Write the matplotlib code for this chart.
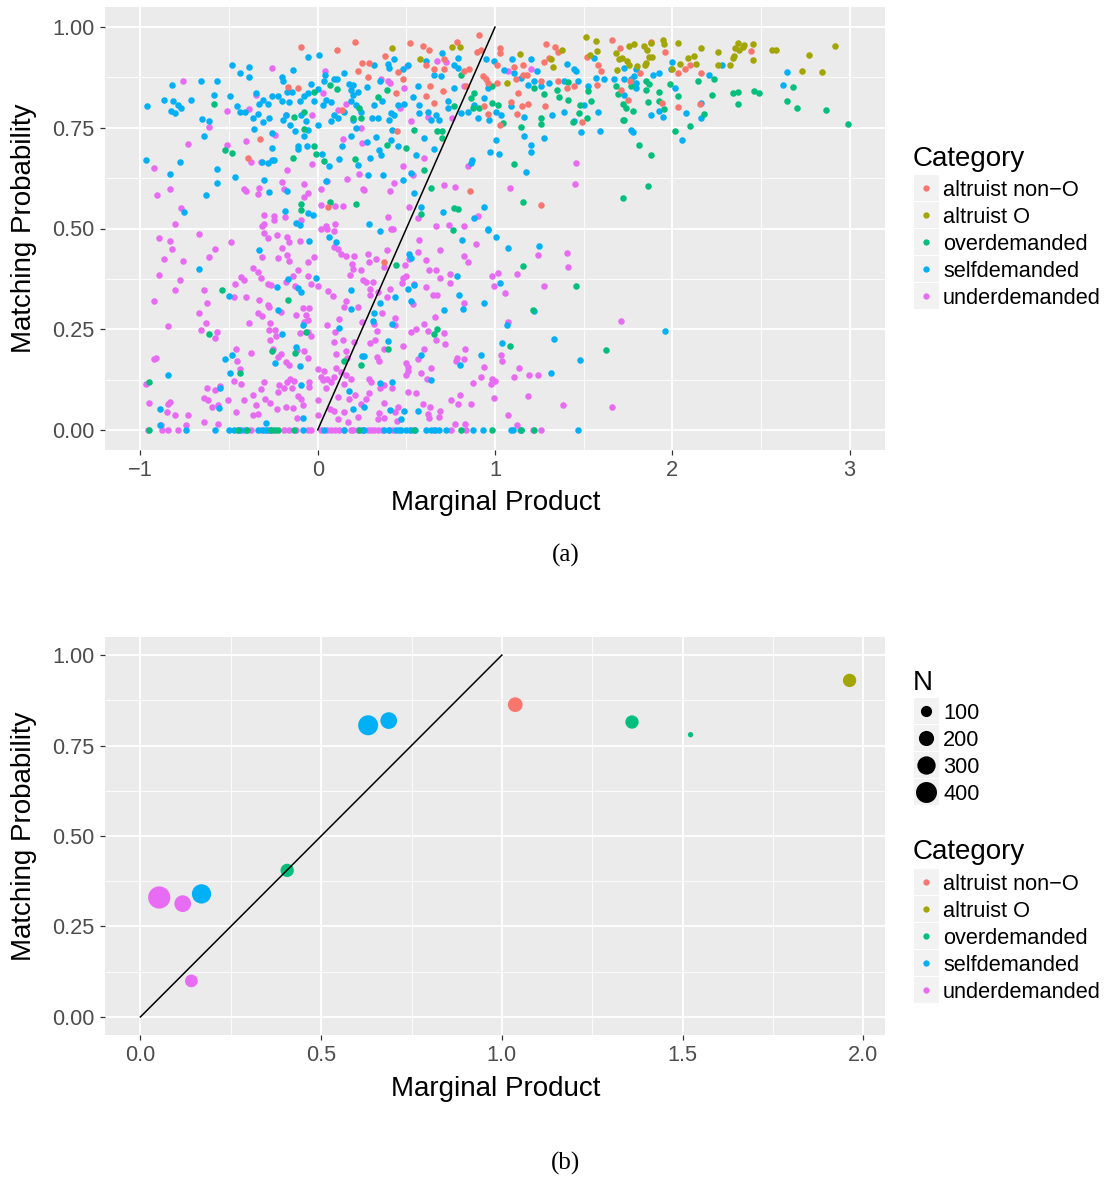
import numpy as np
import matplotlib
matplotlib.use("Agg")
import matplotlib.pyplot as plt
from matplotlib.patches import Rectangle
from matplotlib.lines import Line2D

# ---------------- data ----------------
categories = ["altruist non\u2212O", "altruist O", "overdemanded", "selfdemanded", "underdemanded"]
colors = ["#F8766D", "#A3A500", "#00BF7D", "#00B0F6", "#E76BF3"]

# panel (a): individual (marginal product, matching probability) points
underdemanded_pts = [
    (-0.76,0.866),(-0.258,0.898),(-0.348,0.832),(-0.385,0.797),(-0.513,0.793),(-0.615,0.751),(-0.733,0.709),
    (-0.511,0.708),(-0.404,0.717),(-0.239,0.733),(-0.178,0.783),(-0.032,0.783),(0.043,0.892),(0.028,0.836),
    (0.162,0.808),(0.113,0.795),(0.244,0.75),(0.25,0.712),(0.143,0.723),(-0.925,0.651),(-0.831,0.597),
    (-0.908,0.583),(-0.771,0.552),(-0.806,0.511),(-0.414,0.597),(-0.404,0.592),(-0.338,0.586),(-0.333,0.60),
    (-0.376,0.664),(-0.32,0.666),(-0.175,0.645),(-0.203,0.615),(-0.192,0.598),(-0.075,0.611),(-0.03,0.659),
    (0.019,0.597),(0.05,0.618),(0.164,0.622),(0.256,0.597),(0.235,0.636),(-0.075,0.579),(-0.056,0.588),
    (-0.305,0.534),(-0.248,0.531),(-0.248,0.52),(-0.184,0.529),(-0.305,0.51),(-0.094,0.521),(0.019,0.558),
    (0.098,0.556),(0.143,0.555),(0.049,0.505),(0.098,0.512),
    (0.398,0.866),(0.41,0.861),(0.485,0.849),(0.466,0.80),(0.526,0.766),(0.624,0.778),(0.673,0.915),
    (0.724,0.914),(0.756,0.774),(0.827,0.853),(1.075,0.89),(1.203,0.896),(0.602,0.675),(0.479,0.656),
    (0.535,0.633),(0.846,0.656),(0.429,0.614),(0.41,0.593),(0.71,0.607),(0.774,0.602),(0.517,0.553),
    (0.564,0.527),(0.398,0.529),(0.667,0.505),(0.739,0.509),(0.827,0.506),(0.902,0.532),(1.083,0.60),
    (1.451,0.611),(1.457,0.662),(0.504,0.903),(0.357,0.872),(0.263,0.596),(0.414,0.50),
    (-0.897,0.476),(-0.833,0.469),(-0.821,0.448),(-0.868,0.424),(-0.759,0.419),(-0.897,0.385),(-0.778,0.372),
    (-0.806,0.348),(-0.925,0.319),(-0.842,0.259),(-0.667,0.486),(-0.615,0.429),(-0.577,0.449),(-0.487,0.466),
    (-0.643,0.348),(-0.624,0.316),(-0.669,0.289),(-0.633,0.266),(-0.658,0.248),(-0.568,0.243),(-0.579,0.228),
    (-0.468,0.362),(-0.432,0.38),(-0.414,0.372),(-0.474,0.329),(-0.404,0.329),(-0.367,0.403),(-0.335,0.392),
    (-0.32,0.378),(-0.329,0.322),(-0.282,0.309),(-0.273,0.304),(-0.335,0.289),(-0.316,0.283),(-0.267,0.266),
    (-0.385,0.265),(-0.276,0.248),(-0.233,0.234),(-0.316,0.505),(-0.305,0.489),(-0.282,0.476),(-0.229,0.484),
    (-0.173,0.48),(-0.164,0.467),(-0.203,0.452),(-0.173,0.434),(-0.226,0.426),(-0.16,0.419),(-0.312,0.428),
    (-0.102,0.47),(-0.056,0.416),(-0.023,0.428),(-0.113,0.397),(-0.141,0.383),(-0.179,0.368),(-0.056,0.382),
    (-0.038,0.361),(0.0,0.357),(-0.128,0.357),(-0.282,0.363),(-0.263,0.359),(-0.207,0.293),(-0.122,0.284),
    (-0.085,0.303),(-0.047,0.303),(-0.066,0.284),(-0.056,0.272),(-0.079,0.268),(-0.1,0.241),(-0.056,0.243),
    (-0.038,0.233),(-0.239,0.247),(-0.267,0.224),(-0.254,0.201),(-0.207,0.188),(-0.226,0.181),(-0.179,0.168),
    (-0.16,0.16),(-0.117,0.198),(-0.075,0.195),(-0.053,0.178),(-0.459,0.2),(-0.457,0.172),(-0.44,0.151),
    (-0.474,0.122),(-0.432,0.114),(-0.376,0.19),(-0.921,0.175),(-0.915,0.179),(-0.97,0.113),(-0.949,0.066),
    (-0.846,0.063),(-0.835,0.068),(-0.85,0.045),(-0.805,0.037),(-0.733,0.037),(-0.742,0.013),(-0.883,0.013),
    (-0.639,0.079),(-0.62,0.075),(-0.598,0.056),(-0.624,0.104),(-0.579,0.1),(-0.549,0.11),(-0.564,0.061),
    (-0.564,0.015),(-0.643,0.019),(-0.508,0.075),(-0.461,0.044),(-0.414,0.073),(-0.367,0.087),(-0.348,0.061),
    (-0.367,0.036),(-0.335,0.04),(-0.32,0.102),(-0.305,0.119),(-0.297,0.077),(-0.271,0.066),(-0.229,0.052),
    (-0.226,0.095),(-0.216,0.112),(-0.188,0.104),(-0.171,0.119),(-0.154,0.127),(-0.132,0.121),(-0.145,0.104),
    (-0.179,0.056),(-0.137,0.054),(-0.113,0.085),(-0.094,0.077),(-0.083,0.061),(-0.117,0.029),(-0.051,0.119),
    (-0.047,0.106),(0.0,0.073),(0.0,0.036),(0.004,0.151),(0.038,0.147),(0.019,0.131),(0.028,0.123),
    (0.053,0.127),(0.047,0.105),(0.075,0.119),(0.094,0.131),(0.103,0.153),(0.132,0.144),(0.158,0.135),
    (0.188,0.127),(0.147,0.115),(0.21,0.087),(0.179,0.077),(0.113,0.081),(0.071,0.052),(0.094,0.048),
    (0.147,0.044),(0.113,0.027),(0.17,0.019),(0.226,0.032),(0.244,0.065),(0.16,0.195),(0.165,0.179),
    (0.203,0.218),(0.103,0.189),(0.094,0.218),(0.145,0.222),(0.16,0.321),(0.15,0.305),(0.226,0.304),
    (0.248,0.268),(0.053,0.261),(0.098,0.243),(0.122,0.275),(0.019,0.5),(0.05,0.5),(0.09,0.494),
    (0.094,0.455),(0.113,0.449),(0.132,0.437),(0.16,0.431),(0.207,0.431),(0.192,0.412),(0.197,0.4),
    (0.184,0.385),(0.244,0.398),(0.253,0.372),(0.056,0.346),(0.085,0.333),
    (0.427,0.499),(0.573,0.472),(0.564,0.441),(0.391,0.446),(0.282,0.436),(0.329,0.424),(0.289,0.418),
    (0.376,0.405),(0.492,0.409),(0.517,0.425),(0.611,0.422),(0.692,0.446),(0.827,0.432),(0.846,0.416),
    (0.893,0.462),(0.63,0.396),(0.667,0.397),(0.748,0.388),(0.692,0.377),(0.746,0.365),(0.498,0.382),
    (0.479,0.376),(0.474,0.364),(0.545,0.361),(0.611,0.355),(0.272,0.366),(0.31,0.366),(0.297,0.351),
    (0.297,0.336),(0.338,0.343),(0.41,0.351),(0.391,0.331),(0.535,0.313),(0.648,0.336),(0.673,0.336),
    (0.827,0.316),(0.363,0.29),(0.438,0.278),(0.436,0.26),(0.32,0.263),(0.335,0.246),(0.297,0.216),
    (0.325,0.222),(0.526,0.243),(0.556,0.25),(0.602,0.263),(0.62,0.246),(0.663,0.28),(0.71,0.24),
    (0.665,0.224),(0.72,0.212),(0.479,0.207),(0.376,0.201),(0.335,0.18),(0.344,0.17),(0.564,0.177),
    (0.602,0.2),(0.498,0.167),(0.508,0.156),(0.583,0.142),(0.639,0.153),(0.617,0.127),(0.498,0.135),
    (0.508,0.146),(0.417,0.105),(0.353,0.103),(0.376,0.111),(0.291,0.127),(0.301,0.119),(0.273,0.077),
    (0.291,0.092),(0.372,0.066),(0.348,0.042),(0.376,0.029),(0.338,0.027),(0.451,0.056),(0.438,0.044),
    (0.445,0.021),(0.508,0.094),(0.555,0.091),(0.592,0.065),(0.635,0.056),(0.62,0.04),(0.626,0.029),
    (0.692,0.046),(0.682,0.031),(0.752,0.075),(0.803,0.087),(0.79,0.063),(0.865,0.065),(0.874,0.116),
    (0.921,0.131),(0.977,0.115),(0.983,0.126),(1.002,0.121),(0.94,0.157),(0.992,0.078),(0.786,0.179),
    (0.827,0.175),(0.782,0.171),(0.833,0.2),(1.034,0.186),(1.038,0.172),(1.137,0.153),(1.109,0.131),
    (1.194,0.135),(1.244,0.135),(1.184,0.085),(1.075,0.038),(1.122,0.013),(1.385,0.061),(1.658,0.056),
    (0.983,0.383),(0.992,0.357),(1.019,0.389),(1.058,0.339),(1.122,0.387),(1.278,0.357),(1.241,0.434),
    (1.404,0.44),(1.414,0.405),(1.075,0.268),(1.711,0.27),(0.774,0.015),(0.831,0.015),
    (-0.959,0.0),(-0.88,0.0),(-0.846,0.0),(-0.786,0.0),(-0.45,0.0),(-0.42,0.0),(-0.376,0.0),(-0.32,0.0),
    (-0.28,0.0),(-0.25,0.0),(-0.188,0.0),(-0.16,0.0),(-0.12,0.0),(-0.056,0.0),(-0.038,0.0),(0.02,0.0),
    (0.05,0.0),(0.075,0.0),(0.1,0.0),(0.122,0.0),(0.15,0.0),(0.188,0.0),(0.2,0.0),(0.226,0.0),(0.25,0.0),
    (0.282,0.0),(0.30,0.0),(0.32,0.0),(0.338,0.0),(0.36,0.0),(0.40,0.0),(0.423,0.0),(0.526,0.0),(0.658,0.0),
    (0.752,0.0),(0.836,0.0),(1.143,0.0),(1.212,0.0),(1.259,0.0),
]

selfdemanded_pts = [
    (-0.962,0.803),(-0.868,0.818),(-0.823,0.857),(-0.814,0.816),(-0.827,0.793),(-0.805,0.786),(-0.786,0.807),
    (-0.771,0.80),(-0.714,0.819),(-0.66,0.867),(-0.568,0.866),(-0.586,0.832),(-0.652,0.772),(-0.615,0.768),
    (-0.643,0.73),(-0.485,0.906),(-0.44,0.885),(-0.385,0.90),(-0.385,0.876),(-0.494,0.83),(-0.457,0.805),
    (-0.44,0.79),(-0.41,0.79),(-0.35,0.837),(-0.33,0.81),(-0.31,0.82),(-0.28,0.81),(-0.26,0.83),(-0.226,0.83),
    (-0.2,0.816),(-0.16,0.814),(-0.338,0.784),(-0.366,0.775),(-0.31,0.764),(-0.275,0.775),(-0.36,0.746),
    (-0.257,0.737),(-0.257,0.70),(-0.2,0.876),(-0.195,0.867),(-0.139,0.894),(-0.056,0.925),(0.008,0.932),
    (-0.171,0.84),(-0.145,0.84),(-0.098,0.817),(-0.075,0.83),(-0.038,0.86),(-0.053,0.836),(-0.023,0.816),
    (0.0,0.847),(-0.197,0.77),(-0.178,0.783),(-0.156,0.758),(-0.13,0.743),(-0.094,0.783),(-0.066,0.766),
    (-0.056,0.745),(-0.075,0.729),(0.0,0.756),(-0.11,0.704),(-0.11,0.697),(-0.058,0.705),(0.026,0.686),
    (-0.312,0.666),(-0.282,0.662),(-0.26,0.67),(-0.248,0.67),(-0.97,0.669),(-0.778,0.666),(-0.835,0.635),
    (-0.568,0.647),(-0.568,0.614),(-0.468,0.628),(-0.305,0.62),(-0.276,0.59),(-0.173,0.594),(-0.63,0.583),
    (-0.752,0.542),(-0.184,0.544),(-0.122,0.513),(-0.1,0.509),(-0.028,0.533),(-0.056,0.538),(0.043,0.882),
    (0.038,0.866),(0.094,0.87),(0.109,0.872),(0.15,0.886),(0.175,0.86),(0.197,0.857),(0.188,0.845),
    (0.197,0.832),(0.226,0.84),(0.188,0.816),(0.216,0.807),(0.244,0.79),(0.075,0.814),(0.032,0.807),
    (0.047,0.82),(0.094,0.783),(0.075,0.766),(0.113,0.774),(0.15,0.79),(0.197,0.77),(0.216,0.75),
    (0.188,0.729),(0.135,0.704),(0.118,0.672),(0.229,0.658),(0.062,0.656),(0.047,0.619),
    (0.32,0.907),(0.353,0.867),(0.395,0.909),(0.404,0.899),(0.432,0.92),(0.479,0.895),(0.508,0.907),
    (0.278,0.851),(0.316,0.807),(0.361,0.816),(0.414,0.787),(0.451,0.807),(0.489,0.809),(0.305,0.774),
    (0.338,0.774),(0.404,0.77),(0.432,0.783),(0.535,0.826),(0.564,0.853),(0.573,0.807),(0.573,0.787),
    (0.62,0.79),(0.639,0.77),(0.667,0.783),(0.686,0.77),(0.695,0.878),(0.699,0.936),(0.771,0.905),
    (0.793,0.924),(0.793,0.899),(0.771,0.849),(0.733,0.816),(0.733,0.80),(0.808,0.787),(0.846,0.79),
    (0.883,0.807),(0.902,0.774),(0.94,0.824),(0.958,0.849),(0.968,0.77),(1.005,0.79),(0.949,0.92),
    (0.996,0.915),(1.094,0.921),(1.053,0.893),(1.109,0.886),(1.147,0.874),(1.203,0.92),(1.237,0.89),
    (1.222,0.866),(1.184,0.857),(1.259,0.853),(1.306,0.861),(1.391,0.866),(1.404,0.909),(1.447,0.895),
    (1.457,0.89),(1.466,0.866),(1.523,0.853),(1.56,0.924),(1.569,0.874),(1.617,0.87),(1.669,0.87),
    (1.504,0.807),(1.579,0.79),(1.32,0.783),(1.391,0.79),(1.447,0.766),(1.59,0.741),(1.485,0.739),
    (1.278,0.724),(1.165,0.73),(1.165,0.776),(1.09,0.803),(1.034,0.783),(1.203,0.708),(1.203,0.689),
    (1.175,0.64),(1.005,0.72),(0.974,0.691),(1.02,0.685),(0.868,0.671),(0.865,0.662),(0.602,0.724),
    (0.654,0.698),(0.555,0.683),(0.451,0.704),(0.417,0.745),(0.414,0.72),(0.329,0.726),(0.278,0.716),
    (0.348,0.695),(0.293,0.675),(0.282,0.632),(0.367,0.632),(0.483,0.62),(0.526,0.637),(0.545,0.588),
    (0.583,0.554),(0.708,0.542),(0.883,0.527),(0.936,0.554),(0.958,0.499),(0.291,0.51),(0.611,0.915),
    (0.658,0.88),(0.357,0.683),
    (1.73,0.899),(1.797,0.895),(1.782,0.878),(1.767,0.87),(1.797,0.861),(1.797,0.849),(1.73,0.87),
    (1.73,0.832),(1.889,0.88),(1.923,0.886),(1.998,0.914),(1.992,0.895),(2.015,0.849),(1.88,0.783),
    (1.923,0.791),(1.945,0.776),(2.079,0.787),(2.162,0.812),(2.162,0.774),(2.209,0.882),(2.282,0.907),
    (2.053,0.719),(1.767,0.745),(1.778,0.739),(2.645,0.889),(2.626,0.856),
    (-0.667,0.4),(-0.333,0.447),(-0.047,0.47),(-0.009,0.376),(-0.165,0.374),(-0.229,0.354),(-0.113,0.353),
    (-0.094,0.343),(-0.498,0.333),(-0.226,0.297),(-0.203,0.238),(-0.083,0.26),(-0.12,0.206),(-0.102,0.159),
    (-0.094,0.112),(-0.081,0.029),(0.188,0.348),(0.188,0.299),(0.118,0.254),(0.066,0.48),(0.103,0.467),
    (-0.523,0.177),(-0.485,0.186),(-0.496,0.142),(-0.549,0.103),(-0.558,0.054),(-0.842,0.136),(-0.887,0.052),
    (-0.891,0.013),(-0.241,0.166),(0.179,0.096),(0.197,0.052),(0.25,0.184),(-0.293,0.018),
    (0.353,0.494),(0.517,0.436),(0.526,0.426),(0.812,0.471),(0.959,0.496),(1.006,0.48),(1.075,0.451),
    (1.248,0.457),(0.786,0.383),(0.541,0.36),(0.508,0.349),(0.436,0.331),(0.353,0.316),(0.526,0.32),
    (0.795,0.336),(0.82,0.301),(0.71,0.297),(0.936,0.316),(1.03,0.364),(0.316,0.289),(0.31,0.271),
    (0.419,0.262),(1.222,0.294),(1.068,0.261),(0.398,0.22),(0.263,0.184),(0.583,0.186),(0.803,0.162),
    (0.921,0.185),(1.038,0.216),(1.331,0.226),(1.477,0.174),(1.316,0.141),(0.639,0.123),(0.353,0.116),
    (0.419,0.119),(0.41,0.049),(0.489,0.046),(0.564,0.046),(0.47,0.027),(0.263,0.056),(1.96,0.246),
    (-0.742,0.0),(-0.577,0.0),(-0.498,0.0),(-0.47,0.0),(-0.44,0.0),(-0.404,0.0),(-0.338,0.0),(-0.31,0.0),
    (-0.291,0.0),(-0.27,0.0),(-0.083,0.0),(0.038,0.0),(0.15,0.0),(0.254,0.0),(0.263,0.0),(0.376,0.0),
    (0.40,0.0),(0.442,0.0),(0.46,0.0),(0.47,0.0),(0.498,0.0),(0.52,0.0),(0.55,0.0),(0.611,0.0),(0.639,0.0),
    (0.66,0.0),(0.686,0.0),(0.724,0.0),(0.874,0.0),(0.93,0.0),(1.09,0.0),(1.1,0.0),(1.147,0.0),(1.466,0.0),
]

overdemanded_pts = [
    (-0.586,0.81),(-0.523,0.695),(-0.485,0.688),(-0.137,0.674),(-0.132,0.777),(-0.075,0.79),(-0.075,0.747),
    (-0.019,0.84),(-0.023,0.706),(-0.011,0.685),(0.034,0.667),(0.07,0.856),(0.107,0.846),(0.197,0.774),
    (0.244,0.774),(0.235,0.80),(0.21,0.672),(-0.094,0.561),(-0.094,0.547),(0.07,0.565),(0.216,0.56),
    (0.389,0.845),(0.338,0.826),(0.545,0.745),(0.5,0.70),(0.39,0.708),(0.673,0.741),(0.701,0.724),
    (0.701,0.743),(0.602,0.646),(0.638,0.60),(0.583,0.536),(0.771,0.55),(0.793,0.549),(0.808,0.882),
    (0.767,0.803),(0.865,0.824),(0.883,0.837),(0.874,0.80),(0.912,0.80),(0.981,0.812),(0.981,0.853),
    (1.015,0.807),(1.043,0.762),(1.147,0.751),(1.105,0.66),(1.158,0.565),(1.222,0.849),(1.259,0.774),
    (1.259,0.759),(1.278,0.834),(1.348,0.843),(1.363,0.826),(1.41,0.864),(1.413,0.82),(1.438,0.764),
    (1.479,0.807),(1.472,0.788),(1.519,0.774),(1.523,0.842),(1.541,0.816),(1.68,0.853),(1.692,0.834),
    (1.721,0.809),(1.721,0.77),(1.721,0.575),
    (1.739,0.80),(1.777,0.793),(1.73,0.77),(1.767,0.853),(1.852,0.866),(1.871,0.859),(1.852,0.845),
    (1.923,0.839),(1.865,0.813),(1.926,0.816),(1.951,0.797),(1.989,0.859),(2.034,0.828),(2.017,0.741),
    (2.098,0.755),(2.18,0.784),(2.143,0.866),(2.233,0.871),(2.226,0.831),(2.34,0.837),(2.372,0.838),
    (2.372,0.81),(2.462,0.842),(2.491,0.837),(2.647,0.817),(2.682,0.851),(2.701,0.798),(2.865,0.795),
    (2.994,0.759),(1.814,0.708),(1.88,0.683),(1.861,0.605),
    (-0.541,0.348),(-0.615,0.237),(-0.169,0.322),(-0.066,0.243),(-0.258,0.195),(-0.128,0.192),(-0.44,0.14),
    (-0.953,0.12),(0.15,0.171),(0.244,0.16),(0.765,0.497),(0.444,0.409),(1.158,0.406),(1.459,0.358),
    (1.212,0.297),(0.673,0.25),(0.654,0.237),(0.398,0.2),(1.083,0.208),(1.624,0.199),
    (-0.953,0.0),(-0.451,0.0),(-0.40,0.0),(-0.263,0.0),(-0.24,0.0),(-0.226,0.0),(-0.132,0.0),(0.235,0.0),
    (0.545,0.0),(0.808,0.0),(0.983,0.0),(1.147,0.0),(1.222,0.0),
]

altruist_nonO_pts = [
    (-0.094,0.95),(0.107,0.943),(0.209,0.963),(0.25,0.911),(0.226,0.89),(-0.167,0.851),(-0.113,0.849),
    (0.135,0.795),(-0.323,0.722),(-0.395,0.674),(0.06,0.554),
    (0.519,0.961),(0.592,0.953),(0.629,0.944),(0.785,0.963),(0.912,0.981),(0.897,0.938),(0.921,0.942),
    (1.03,0.949),(1.03,0.936),(1.286,0.957),(1.34,0.95),(1.353,0.938),(1.66,0.969),(1.703,0.949),
    (0.382,0.928),(0.289,0.911),(0.286,0.876),(0.455,0.889),(0.61,0.905),(0.654,0.895),(0.71,0.922),
    (0.71,0.896),(0.827,0.89),(0.855,0.895),(0.932,0.878),(0.949,0.87),(0.958,0.861),(1.011,0.905),
    (1.105,0.90),(1.16,0.905),(1.156,0.88),(1.118,0.87),(1.18,0.88),(1.274,0.914),(1.302,0.924),
    (1.353,0.866),(1.406,0.849),(1.447,0.853),(1.519,0.925),(1.579,0.905),(1.598,0.892),(1.575,0.857),
    (1.711,0.845),(0.483,0.87),(0.632,0.853),(0.611,0.828),(0.707,0.842),(0.658,0.812),(0.442,0.836),
    (0.445,0.743),(0.836,0.853),(1.011,0.861),(1.09,0.814),(1.15,0.805),(1.124,0.784),(1.184,0.809),
    (1.259,0.866),(1.284,0.803),(0.94,0.803),(0.958,0.784),(1.03,0.757),(1.128,0.837),(1.489,0.764),
    (0.857,0.594),(1.259,0.559),(0.372,0.418),
    (1.88,0.963),(1.961,0.939),(1.816,0.885),(1.763,0.867),(2.034,0.886),(2.071,0.897),(2.098,0.905),
    (2.162,0.887),(1.944,0.811),(2.034,0.802),(2.154,0.81),(2.444,0.94),(1.752,0.818),
]

altruist_O_pts = [
    (0.417,0.947),(0.575,0.922),(0.756,0.95),(0.803,0.95),(1.139,0.934),(1.378,0.944),(1.329,0.90),
    (1.316,0.92),(1.068,0.861),(1.513,0.975),(1.569,0.965),(1.575,0.94),(1.536,0.932),(1.682,0.936),
    (1.701,0.92),(1.714,0.924),(1.688,0.893),
    (1.757,0.953),(1.786,0.959),(1.842,0.954),(1.88,0.961),(1.945,0.969),(1.951,0.959),(2.034,0.96),
    (1.857,0.944),(1.868,0.925),(1.887,0.927),(1.85,0.911),(1.846,0.905),(1.803,0.903),(1.745,0.915),
    (1.758,0.907),(1.996,0.896),(2.045,0.909),(2.086,0.924),(2.124,0.929),(2.135,0.909),(2.162,0.947),
    (2.256,0.938),(2.256,0.905),(2.327,0.907),(2.34,0.924),(2.346,0.928),(2.353,0.949),(2.372,0.961),
    (2.397,0.95),(2.406,0.955),(2.455,0.958),(2.455,0.918),(2.56,0.944),(2.585,0.942),(2.729,0.89),
    (2.774,0.932),(2.847,0.888),(2.919,0.952),(2.378,0.942),
]

# panel (b): category means with counts
mean_cat = ["altruist O", "altruist non\u2212O", "selfdemanded", "selfdemanded", "overdemanded",
            "overdemanded", "overdemanded", "underdemanded", "underdemanded", "selfdemanded", "underdemanded"]
mean_x = [1.962, 1.037, 0.630, 0.687, 1.360, 1.522, 0.406, 0.052, 0.117, 0.169, 0.141]
mean_y = [0.930, 0.863, 0.806, 0.819, 0.815, 0.780, 0.405, 0.330, 0.313, 0.340, 0.0995]
mean_n = [150, 187, 362, 247, 150, 8, 150, 450, 247, 336, 135]
n_breaks = [100, 200, 300, 400]

# ---------------- figure ----------------
W, H = 1109, 1179
fig = plt.figure(figsize=(W / 100, H / 100), dpi=100)
plt.rcParams["font.family"] = ["Liberation Sans", "DejaVu Sans"]

def fx(px):
    return px / W

def fy(py):
    return 1 - py / H

def size_from_n(n):
    d = np.sqrt(20 + 1.05 * np.asarray(n, dtype=float))  # diameter in px
    return (d * 0.72) ** 2

def style_axes(ax, xmaj, xmin):
    ax.set_facecolor("#EBEBEB")
    for s in ax.spines.values():
        s.set_visible(False)
    ax.set_xticks(xmaj)
    ax.set_xticks(xmin, minor=True)
    ax.set_yticks([0, 0.25, 0.5, 0.75, 1.0])
    ax.set_yticks([0.125, 0.375, 0.625, 0.875], minor=True)
    ax.set_yticklabels(["0.00", "0.25", "0.50", "0.75", "1.00"])
    ax.grid(which="major", color="white", linewidth=1.3)
    ax.grid(which="minor", color="white", linewidth=0.6)
    ax.set_axisbelow(True)
    ax.tick_params(which="major", length=3.5, width=0.9, color="#333333",
                   labelsize=15.7, labelcolor="#4D4D4D", pad=4)
    ax.tick_params(which="minor", length=0)

# ---- panel (a)
ax1 = fig.add_axes([fx(105), fy(450), 780 / W, 443 / H])
style_axes(ax1, [-1, 0, 1, 2, 3], [-0.5, 0.5, 1.5, 2.5])
ax1.set_xticklabels(["\u22121", "0", "1", "2", "3"])
ax1.set_xlim(-1.2, 3.2)
ax1.set_ylim(-0.05, 1.05)

groups = {
    "underdemanded": underdemanded_pts,
    "selfdemanded": selfdemanded_pts,
    "overdemanded": overdemanded_pts,
    "altruist non\u2212O": altruist_nonO_pts,
    "altruist O": altruist_O_pts,
}
for name, pts in groups.items():
    arr = np.array(pts)
    ax1.scatter(arr[:, 0], arr[:, 1], s=22, color=colors[categories.index(name)],
                linewidths=0, zorder=2)
ax1.plot([0, 1], [0, 1], color="black", linewidth=1.1, zorder=3)

# ---- panel (b)
ax2 = fig.add_axes([fx(105), fy(1035), 780 / W, 398 / H])
style_axes(ax2, [0, 0.5, 1.0, 1.5, 2.0], [0.25, 0.75, 1.25, 1.75])
ax2.set_xticklabels(["0.0", "0.5", "1.0", "1.5", "2.0"])
ax2.set_xlim(-0.098, 2.06)
ax2.set_ylim(-0.05, 1.05)
ax2.scatter(mean_x, mean_y, s=size_from_n(mean_n),
            color=[colors[categories.index(c)] for c in mean_cat], linewidths=0, zorder=2)
ax2.plot([0, 1], [0, 1], color="black", linewidth=1.1, zorder=3)

# ---- axis titles and captions
for yc_title, yc_x in [(228, 503), (836, 1089)]:
    fig.text(fx(24), fy(yc_title), "Matching Probability", rotation=90, ha="center", va="center",
             fontsize=20)
    fig.text(fx(496), fy(yc_x), "Marginal Product", ha="center", va="center", fontsize=20)
fig.text(fx(566), fy(555), "(a)", ha="center", va="center", fontsize=18,
         family=["Liberation Serif", "DejaVu Serif"])
fig.text(fx(566), fy(1163), "(b)", ha="center", va="center", fontsize=18,
         family=["Liberation Serif", "DejaVu Serif"])

# ---- legends (drawn in figure pixel space)
def key_box(yc):
    fig.add_artist(Rectangle((fx(914), fy(yc + 13)), 25 / W, 26 / H, transform=fig.transFigure,
                             facecolor="#F2F2F2", edgecolor="none"))

def key_dot(yc, color, diam_px):
    fig.add_artist(Line2D([fx(926.5)], [fy(yc)], marker="o", markersize=diam_px * 0.72,
                          markerfacecolor=color, markeredgewidth=0, linestyle="none",
                          transform=fig.transFigure))

def key_label(yc, text):
    fig.text(fx(943), fy(yc + 8.3), text, ha="left", va="baseline", fontsize=15.7)

def category_legend(title_base, first_row):
    fig.text(fx(913), fy(title_base), "Category", ha="left", va="baseline", fontsize=20)
    for i, (cat, col) in enumerate(zip(categories, colors)):
        yc = first_row + 26.9 * i
        key_box(yc)
        key_dot(yc, col, 6.3)
        key_label(yc, cat)

category_legend(166, 188)

fig.text(fx(913), fy(690), "N", ha="left", va="baseline", fontsize=20)
for i, n in enumerate(n_breaks):
    yc = 711 + 26.9 * i
    key_box(yc)
    key_dot(yc, "black", float(np.sqrt(20 + 1.05 * n)))
    key_label(yc, str(n))

category_legend(859, 882)

fig.savefig("out.png", dpi=100)
